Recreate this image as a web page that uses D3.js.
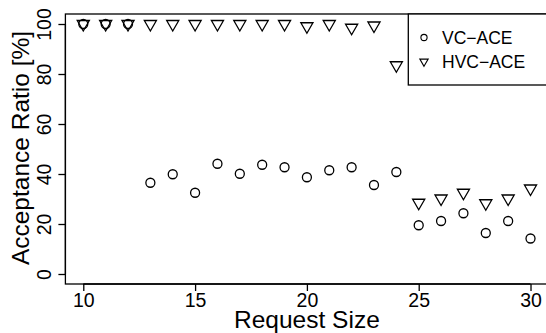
<!DOCTYPE html>
<html>
<head>
<meta charset="utf-8">
<script src="https://cdn.jsdelivr.net/npm/d3@7"></script>
<style>
  html, body { margin: 0; padding: 0; background: #fff; }
  svg { display: block; font-family: "Liberation Sans", Arial, Helvetica, sans-serif; }
  .axis text { font-size: 19.5px; fill: #000; font-family: "Liberation Sans", Arial, Helvetica, sans-serif; }
</style>
</head>
<body>
<svg id="chart" width="546" height="333"></svg>
<script>
// Request sizes on the x axis
const requestSizes = [10, 11, 12, 13, 14, 15, 16, 17, 18, 19, 20, 21, 22, 23, 24, 25, 26, 27, 28, 29, 30];
// Acceptance ratio [%] per request size
const vcAce  = [100, 100, 100, 36.5, 39.9, 32.5, 44.1, 40.1, 43.7, 42.7, 38.7, 41.5, 42.7, 35.6, 40.8, 19.5, 21.2, 24.3, 16.4, 21.2, 14.2];
const hvcAce = [100, 100, 100, 100, 100, 100, 100, 100, 100, 100, 99.1, 100, 98.5, 99.4, 83.5, 28.5, 30.2, 32.5, 28.3, 30.2, 34.2];
const xTicks = [10, 15, 20, 25, 30];
const yTicks = [0, 20, 40, 60, 80, 100];
const seriesNames = ["VC\u2212ACE", "HVC\u2212ACE"];

const svg = d3.select("#chart");

// Plot region (domains padded 4% like a base-graphics plot)
const x = d3.scaleLinear().domain([9.2, 30.8]).range([65.4, 548.4]);
const y = d3.scaleLinear().domain([-4, 104]).range([284, 14]);

const stroke = "#000";
const lw = 1.3;

// Marker shapes: open circle and downward triangle centred on its centroid
const R = 4.5;
function triPath(r) {
  const tr0 = 1.5551 * r, tr1 = 1.3468 * r, tr2 = 0.7776 * r;
  return `M0,${tr0}L${tr1},${-tr2}L${-tr1},${-tr2}Z`;
}

// Points
const g = svg.append("g");
g.selectAll("circle.vc").data(requestSizes.map((s, i) => [s, vcAce[i]]))
  .join("circle")
  .attr("class", "vc")
  .attr("cx", d => x(d[0])).attr("cy", d => y(d[1]))
  .attr("r", R)
  .attr("fill", "none").attr("stroke", stroke).attr("stroke-width", lw);

g.selectAll("path.hvc").data(requestSizes.map((s, i) => [s, hvcAce[i]]))
  .join("path")
  .attr("class", "hvc")
  .attr("transform", d => `translate(${x(d[0])},${y(d[1])})`)
  .attr("d", triPath(R))
  .attr("fill", "none").attr("stroke", stroke).attr("stroke-width", lw)
  .attr("stroke-linejoin", "miter");

// Box around the plot region
svg.append("rect")
  .attr("x", x.range()[0]).attr("y", y.range()[1])
  .attr("width", x.range()[1] - x.range()[0])
  .attr("height", y.range()[0] - y.range()[1])
  .attr("fill", "none").attr("stroke", stroke).attr("stroke-width", lw);

// X axis
const xAxis = svg.append("g")
  .attr("class", "axis")
  .attr("transform", `translate(0,${y.range()[0]})`)
  .call(d3.axisBottom(x).tickValues(xTicks).tickSize(7).tickPadding(1.5).tickFormat(d3.format("d")));
xAxis.attr("font-size", null).attr("font-family", null);
xAxis.select(".domain").attr("d", `M${x(xTicks[0])},0H${x(xTicks[xTicks.length - 1])}`)
  .attr("stroke-width", lw);
xAxis.selectAll(".tick line").attr("stroke-width", lw);
xAxis.selectAll(".tick text").attr("dy", "0.72em");

// Y axis (labels rotated parallel to the axis)
const yAxis = svg.append("g")
  .attr("class", "axis")
  .attr("transform", `translate(${x.range()[0]},0)`)
  .call(d3.axisLeft(y).tickValues(yTicks).tickSize(7).tickFormat(d3.format("d")));
yAxis.attr("font-size", null).attr("font-family", null);
yAxis.select(".domain").attr("d", `M0,${y(yTicks[0])}V${y(yTicks[yTicks.length - 1])}`)
  .attr("stroke-width", lw);
yAxis.selectAll(".tick line").attr("stroke-width", lw);
yAxis.selectAll(".tick text")
  .attr("x", null).attr("dy", null)
  .attr("text-anchor", "middle")
  .attr("transform", "translate(-14,0) rotate(-90)");

// Axis titles
svg.append("text")
  .attr("x", (x.range()[0] + x.range()[1]) / 2)
  .attr("y", 327.8)
  .attr("text-anchor", "middle")
  .style("font-size", "24.5px")
  .text("Request Size");

svg.append("text")
  .attr("transform", `translate(28.5,${(y.range()[0] + y.range()[1]) / 2 - 1}) rotate(-90)`)
  .attr("text-anchor", "middle")
  .style("font-size", "24.5px")
  .text("Acceptance Ratio [%]");

// Legend box in the top-right corner
const legend = svg.append("g");
legend.append("rect")
  .attr("x", 408.3).attr("y", y.range()[1])
  .attr("width", x.range()[1] - 408.3)
  .attr("height", 71)
  .attr("fill", "#fff").attr("stroke", stroke).attr("stroke-width", lw);

const rowY = [37.5, 61.5];
const lr = 3.1;
legend.append("circle")
  .attr("cx", 424).attr("cy", rowY[0]).attr("r", lr)
  .attr("fill", "none").attr("stroke", stroke).attr("stroke-width", 1.1);
legend.append("path")
  .attr("transform", `translate(424,${rowY[1]})`)
  .attr("d", triPath(lr))
  .attr("fill", "none").attr("stroke", stroke).attr("stroke-width", 1.1);
legend.selectAll("text.lab").data(seriesNames)
  .join("text")
  .attr("class", "lab")
  .attr("x", 442)
  .attr("y", (d, i) => rowY[i])
  .attr("dy", "0.36em")
  .style("font-size", "17.5px")
  .text(d => d);
</script>
</body>
</html>
